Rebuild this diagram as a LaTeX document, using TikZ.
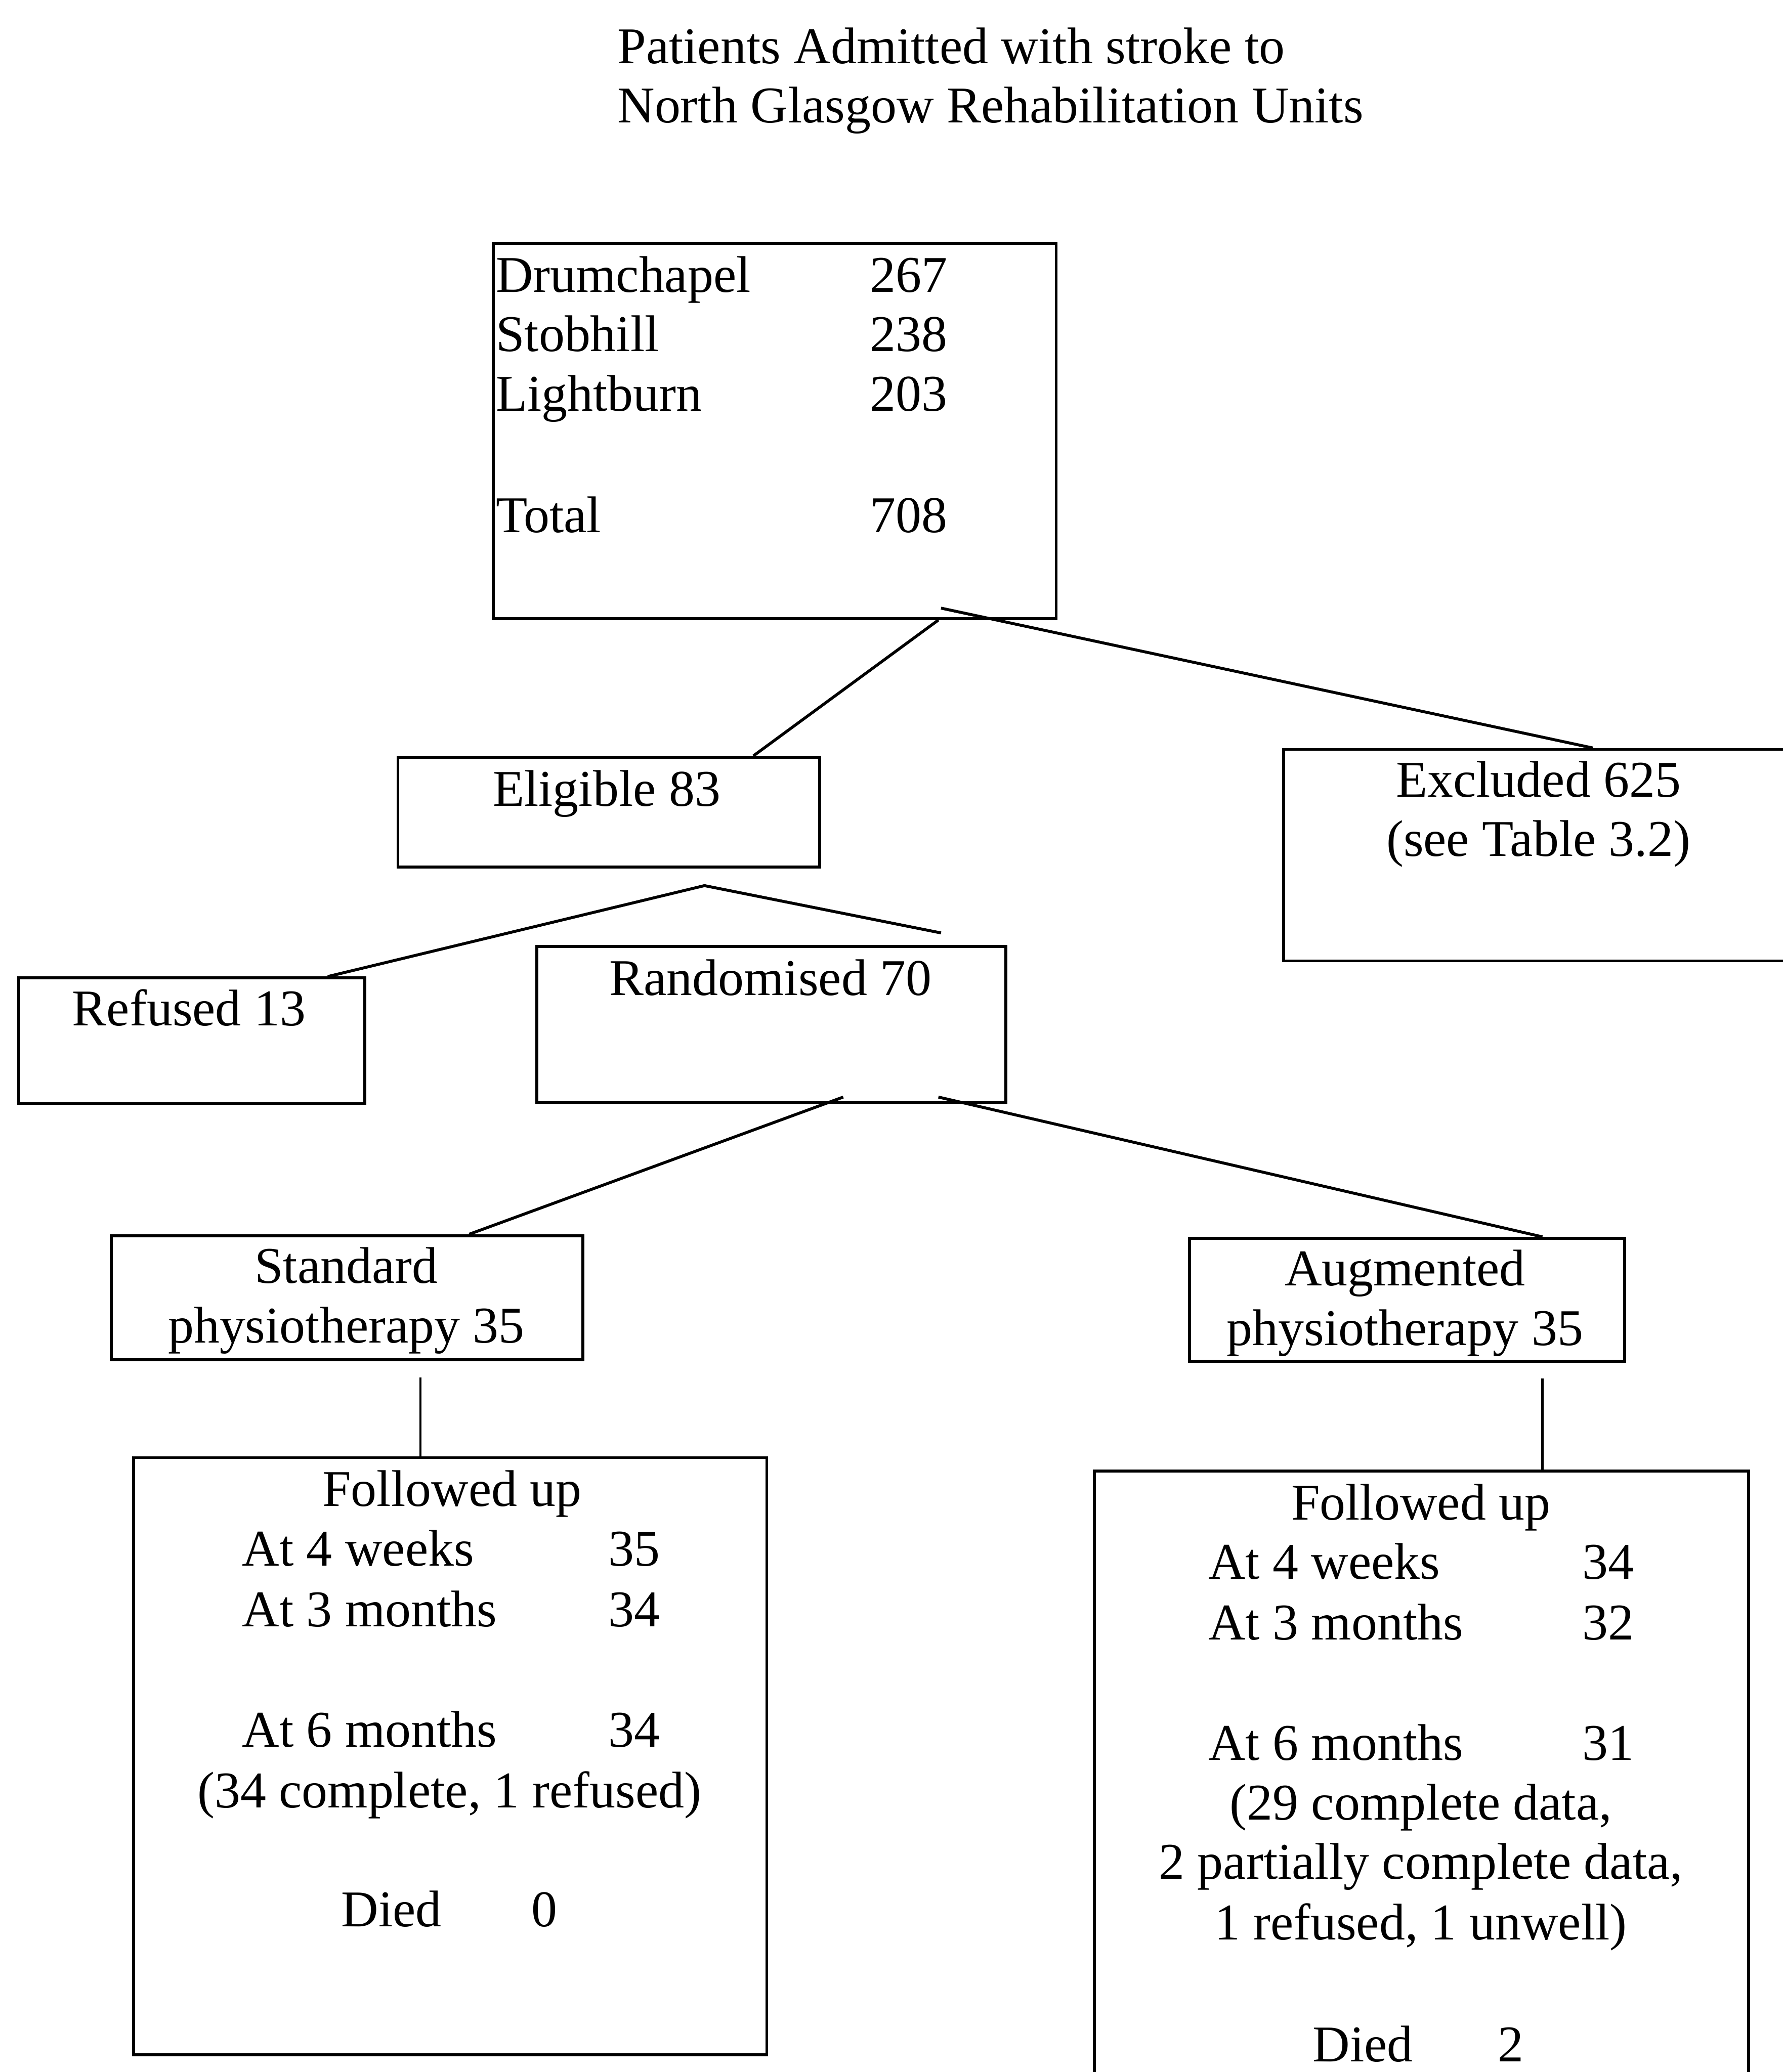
\documentclass[tikz,border=0pt]{standalone}
\usepackage{fontspec}
\setmainfont{Liberation Serif}
\usepackage{tikz}

\begin{document}
\begin{tikzpicture}[x=1pt,y=-1pt,
    box/.style={draw, line width=2.2pt, inner sep=0pt, anchor=north west},
    txt/.style={inner sep=0pt, anchor=base},
    lbl/.style={inner sep=0pt, anchor=base west},
    every node/.append style={font=\fontsize{39}{45}\selectfont}]
    \useasboundingbox (0,0) rectangle (1349,1568);
    \clip (0,0) rectangle (1349,1568);
    % title
    \node[lbl] (title1) at (467,48) {Patients Admitted with stroke to};
    \node[lbl] (title2) at (467,93) {North Glasgow Rehabilitation Units};
    % boxes
    \node[box, minimum width=426pt, minimum height=284pt] (admit) at (372,183) {};
    \node[box, minimum width=319pt, minimum height=83pt] (eligible) at (300,572) {};
    \node[box, minimum width=420pt, minimum height=160pt] (excluded) at (970,566) {};
    \node[box, minimum width=262pt, minimum height=95pt] (refused) at (13,739) {};
    \node[box, minimum width=355pt, minimum height=118pt] (random) at (405,715) {};
    \node[box, minimum width=357pt, minimum height=94pt] (standard) at (83,934) {};
    \node[box, minimum width=329pt, minimum height=93pt] (augmented) at (899,936) {};
    \node[box, minimum width=479pt, minimum height=452pt] (stdfu) at (100,1102) {};
    \node[box, minimum width=495pt, minimum height=520pt] (augfu) at (827,1112) {};
    % texts
    \foreach \site/\num/\y [count=\i] in {Drumchapel/267/221, Stobhill/238/266,
        Lightburn/203/311, Total/708/403} {
        \node[lbl] (site\i) at (375,\y) {\site};
        \node[lbl] (sitenum\i) at (658,\y) {\num};
    }
    \node[txt] (eligibletxt) at (459,610) {Eligible 83};
    \node[txt] (excludedtxt) at (1164,603) {Excluded 625};
    \node[txt] (excludedref) at (1164,648) {(see Table 3.2)};
    \node[txt] (refusedtxt) at (143,776) {Refused 13};
    \node[txt] (randomtxt) at (583,753) {Randomised 70};
    \node[txt] (standardtxt) at (262,971) {Standard};
    \node[txt] (standardnum) at (262,1016) {physiotherapy 35};
    \node[txt] (augmentedtxt) at (1063,973) {Augmented};
    \node[txt] (augmentednum) at (1063,1018) {physiotherapy 35};
    % follow up, standard arm
    \node[txt] (stdfuhead) at (342,1140) {Followed up};
    \foreach \when/\num/\y [count=\i] in {At 4 weeks/35/1185, At 3 months/34/1231,
        At 6 months/34/1322} {
        \node[lbl] (stdwhen\i) at (183,\y) {\when};
        \node[lbl] (stdnum\i) at (460,\y) {\num};
    }
    \node[txt] (stdnote) at (340,1368) {(34 complete, 1 refused)};
    \node[lbl] (stddied) at (258,1458) {Died};
    \node[lbl] (stddiednum) at (402,1458) {0};
    % follow up, augmented arm
    \node[txt] (augfuhead) at (1075,1150) {Followed up};
    \foreach \when/\num/\y [count=\i] in {At 4 weeks/34/1195, At 3 months/32/1241,
        At 6 months/31/1332} {
        \node[lbl] (augwhen\i) at (914,\y) {\when};
        \node[lbl] (augnum\i) at (1197,\y) {\num};
    }
    \node[txt] (augnote1) at (1075,1377) {(29 complete data,};
    \node[txt] (augnote2) at (1075,1422) {2 partially complete data,};
    \node[txt] (augnote3) at (1075,1468) {1 refused, 1 unwell)};
    \node[lbl] (augdied) at (993,1560) {Died};
    \node[lbl] (augdiednum) at (1133,1560) {2};
    % connectors
    \coordinate (eligfork) at ([xshift=233pt,yshift=-13pt]eligible.south west);
    \draw[line width=2.2pt] ([xshift=338pt]admit.south west)
        -- ([xshift=270pt]eligible.north west);
    \draw[line width=2.2pt] ([xshift=340pt,yshift=9pt]admit.south west)
        -- ([xshift=235pt]excluded.north west);
    \draw[line width=2.2pt] ([xshift=235pt]refused.north west) -- (eligfork)
        -- ([xshift=307pt,yshift=9pt]random.north west);
    \draw[line width=2.2pt] ([xshift=233pt,yshift=5pt]random.south west)
        -- ([xshift=272pt]standard.north west);
    \draw[line width=2.2pt] ([xshift=305pt,yshift=5pt]random.south west)
        -- ([xshift=268pt]augmented.north west);
    \draw[line width=1.6pt] ([xshift=235pt,yshift=-12pt]standard.south west)
        -- ([xshift=218pt]stdfu.north west);
    \draw[line width=1.6pt] ([xshift=268pt,yshift=-12pt]augmented.south west)
        -- ([xshift=340pt]augfu.north west);
\end{tikzpicture}
\end{document}
